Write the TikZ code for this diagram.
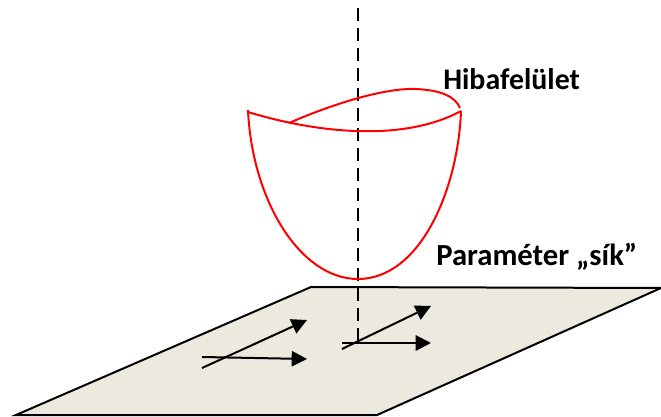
\documentclass[tikz,border=0pt]{standalone}
\usepackage{fontspec}
\setmainfont{Carlito}
\usetikzlibrary{arrows.meta}
\definecolor{surfred}{RGB}{255,0,0}
\definecolor{planefill}{RGB}{236,233,222}
\tikzset{
  vec/.style={black,line width=1.5pt,-{Triangle[length=11.5pt,width=11.5pt]}},
  redc/.style={draw=surfred,line width=1.5pt},
  lbl/.style={font=\bfseries\fontsize{23}{25}\selectfont,inner sep=0pt,anchor=base west},
  lblsmall/.style={lbl,font=\bfseries\fontsize{22.4}{25}\selectfont}
}
\begin{document}
\begin{tikzpicture}[x=0.75pt,y=-0.75pt]
\useasboundingbox (0,0) rectangle (661,417);
\coordinate (p1) at (311,287);
\coordinate (p2) at (661,288);
\coordinate (p3) at (377,415);
\coordinate (p4) at (16,415);
\draw[black,line width=1.5pt,fill=planefill] (p1) -- (p2) -- (p3) -- (p4) -- cycle;
\coordinate (axT) at (358,8);
\coordinate (axB) at (358,343);
\coordinate (L) at (248,112);
\coordinate (Ltop) at (248,110);
\coordinate (R) at (461,111);
\coordinate (Rtop) at (460,108);
\coordinate (Bt) at (358,279);
\coordinate (S) at (289,123);
\draw[black,line width=1.5pt,dash pattern=on 10pt off 5pt] (axT) -- (axB);
\draw[redc] (Ltop) .. controls (252,200) and (300,279) .. (Bt) .. controls (420,279) and (458,190) .. (R);
\draw[redc] (L) .. controls (310,131) and (400,144) .. (R);
\draw[redc] (S) .. controls (335,103) and (385,88) .. (415,89) .. controls (440,90) and (455,96) .. (Rtop);
\coordinate (a1) at (202,368);
\coordinate (a2) at (307,320);
\coordinate (b1) at (202,357);
\coordinate (b2) at (307,359);
\coordinate (c1) at (342,349);
\coordinate (c2) at (431,306);
\coordinate (d1) at (342,343);
\coordinate (d2) at (431,343);
\draw[vec] (a1) -- (a2);
\draw[vec] (b1) -- (b2);
\draw[vec] (c1) -- (c2);
\draw[vec] (d1) -- (d2);
\node[lblsmall] (hiba) at (443,90) {Hibafelület};
\node[lbl] (param) at (436,266) {Paraméter „sík”};
\end{tikzpicture}
\end{document}
